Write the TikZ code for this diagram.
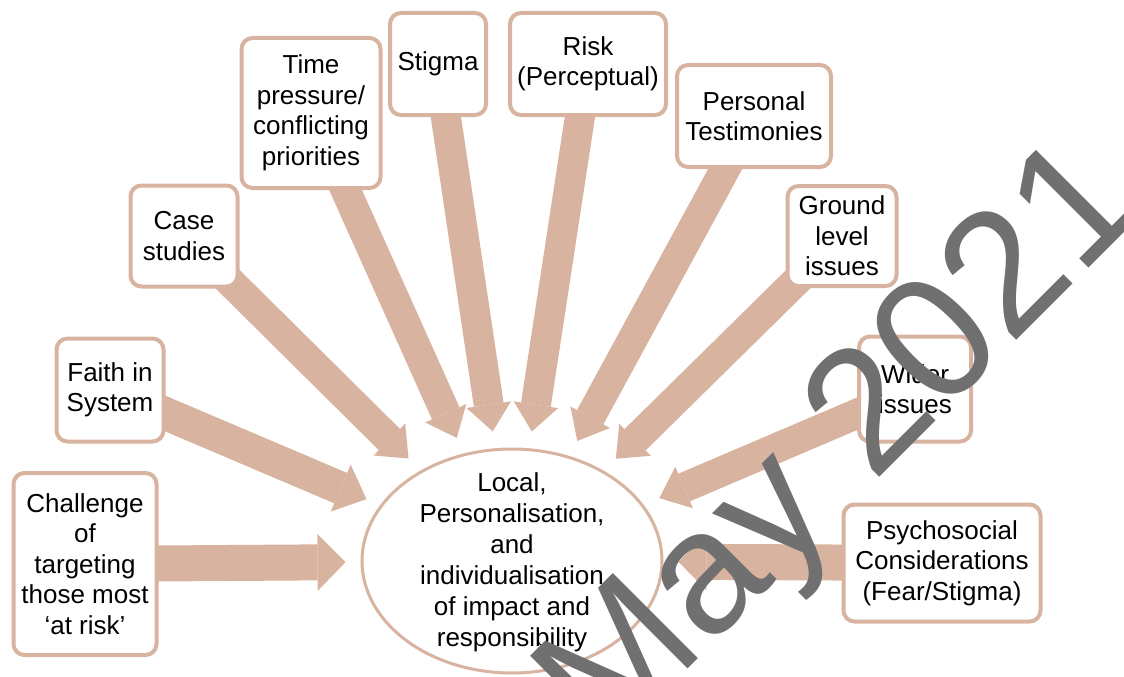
\documentclass[tikz,border=0pt]{standalone}
\usepackage{fontspec}
\setmainfont{Liberation Sans}
\usetikzlibrary{shapes.geometric,arrows.meta,backgrounds}
\definecolor{tan}{RGB}{216,179,160}
\definecolor{markgray}{RGB}{112,112,112}

\begin{document}
\begin{tikzpicture}[x=1pt,y=-1pt,
	topic/.style={draw=tan,line width=4pt,rounded corners=11pt,fill=white,align=center,inner sep=0pt,font=\fontsize{26}{30.5}\selectfont},
	feed/.style={draw=tan,line width=30pt,-{Triangle[width=45pt,length=27pt,line width=0pt]},shorten >=17pt},
	heavyfeed/.style={feed,line width=36pt,-{Triangle[width=57pt,length=28pt,line width=0pt]},shorten >=15pt}]
	\useasboundingbox (0,0) rectangle (1124,677);
	\clip (0,0) rectangle (1124,677);
	
	\node[ellipse,draw=tan,line width=3pt,fill=white,minimum width=300pt,minimum height=224pt] (centre) at (512,561) {};
	\node[align=center,inner sep=0pt,font=\fontsize{26}{31}\selectfont] (centretext) at (512,562) {Local,\\Personalisation,\\and\\individualisation\\of impact and\\responsibility};
	
	\node[topic,minimum width=143pt,minimum height=182pt] (challenge) at (85,564) {Challenge\\of\\targeting\\those most\\‘at risk’};
	\node[topic,minimum width=107pt,minimum height=103pt] (faith) at (110,390) {Faith in\\System};
	\node[topic,minimum width=107pt,minimum height=101pt] (casestudies) at (184,236) {Case\\studies};
	\node[topic,minimum width=139pt,minimum height=150pt] (timepressure) at (311,113) {Time\\pressure/\\conflicting\\priorities};
	\node[topic,minimum width=96pt,minimum height=102pt] (stigma) at (438,64) {Stigma};
	\node[topic,minimum width=156pt,minimum height=102pt] (risk) at (588,64) {Risk\\(Perceptual)};
	\node[topic,minimum width=154pt,minimum height=102pt] (testimonies) at (754,116) {Personal\\Testimonies};
	\node[topic,minimum width=109pt,minimum height=100pt] (groundlevel) at (842,236) {Ground\\level\\issues};
	\node[topic,minimum width=112pt,minimum height=105pt] (wider) at (915,389) {Wider\\issues};
	\node[topic,minimum width=197pt,minimum height=117pt] (psychosocial) at (942,563) {Psychosocial\\Considerations\\(Fear/Stigma)};
	
	\begin{scope}[on background layer]
		\draw[heavyfeed] (challenge.center) -- (centre);
		\draw[feed,line width=33pt,-{Triangle[width=51pt,length=28pt,line width=0pt]},shorten >=15pt] (faith.center) -- (centre);
		\draw[feed] (casestudies.center) -- (centre);
		\draw[feed] (timepressure.center) -- (centre);
		\draw[feed] (stigma.center) -- (centre);
		\draw[feed] (risk.center) -- (centre);
		\draw[feed] (testimonies.center) -- (centre);
		\draw[feed] (groundlevel.center) -- (centre);
		\draw[feed] (wider.center) -- (centre);
		\draw[heavyfeed] (psychosocial.center) -- (centre);
	\end{scope}
	
	\node[rotate=45,anchor=base west,inner sep=0pt,text=markgray,font=\fontsize{175}{175}\selectfont] (stamp) at (605,752) {May 2021};
\end{tikzpicture}
\end{document}
